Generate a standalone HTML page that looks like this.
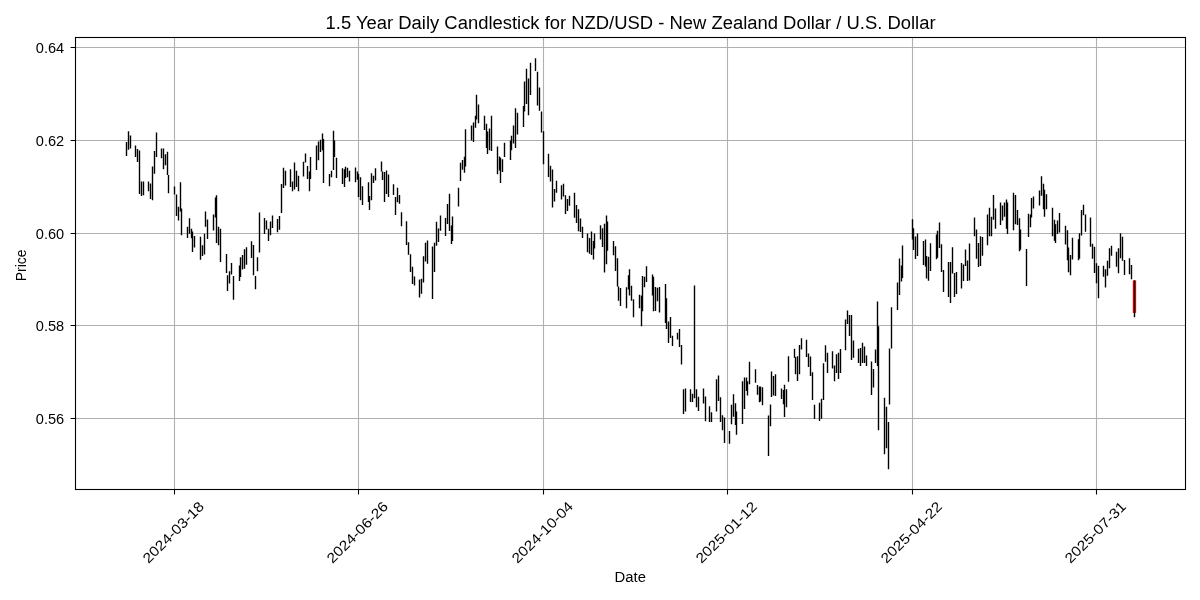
<!DOCTYPE html><html><head><meta charset="utf-8"><style>html,body{margin:0;padding:0;background:#fff;width:1200px;height:600px;overflow:hidden}svg{display:block}text{font-family:"Liberation Sans",sans-serif;fill:#000}</style></head><body><svg width="1200" height="600" viewBox="0 0 1200 600"><rect x="0" y="0" width="1200" height="600" fill="#fff"/><path d="M75.5 47.5H1185.5 M75.5 140.5H1185.5 M75.5 233.5H1185.5 M75.5 325.5H1185.5 M75.5 418.5H1185.5 M174.5 37.5V489.5 M358.5 37.5V489.5 M543.5 37.5V489.5 M727.5 37.5V489.5 M912.5 37.5V489.5 M1096.5 37.5V489.5" stroke="#b0b0b0" stroke-width="1.1" fill="none"/><rect x="1132.8" y="280.5" width="3.35" height="32.4" fill="#f00"/><path d="M126.5 141.9V155.9 M128.5 131.2V149.7 M130.5 135.4V148.4 M135.5 145.5V156.9 M137.5 149.0V162.0 M139.5 150.4V193.9 M141.5 181.6V195.9 M143.5 181.6V195.2 M148.5 181.6V191.3 M150.5 183.5V199.0 M152.5 166.6V200.2 M154.5 151.0V173.8 M156.5 132.5V156.9 M161.5 148.4V158.2 M163.5 148.4V169.2 M165.5 154.3V165.3 M167.5 151.7V175.0 M168.5 175.0V193.3 M174.5 186.4V194.6 M176.5 194.6V216.0 M178.5 206.8V220.6 M180.5 182.3V211.4 M181.5 208.4V235.2 M187.5 226.8V238.0 M189.5 218.3V233.7 M191.5 228.8V238.3 M192.5 231.4V252.1 M194.5 236.0V247.5 M200.5 236.7V259.8 M202.5 245.2V255.9 M204.5 233.7V254.4 M205.5 211.4V226.8 M207.5 219.6V239.0 M213.5 214.5V230.6 M215.5 197.6V217.6 M216.5 195.3V242.9 M218.5 226.8V245.2 M220.5 228.8V262.0 M226.5 254.1V272.9 M227.5 275.3V290.9 M229.5 271.2V283.5 M231.5 263.0V274.5 M233.5 276.1V299.8 M239.5 265.5V281.0 M240.5 257.3V277.0 M242.5 254.9V269.6 M244.5 249.2V268.8 M246.5 247.2V264.7 M251.5 241.3V258.1 M253.5 245.1V275.3 M255.5 276.1V289.2 M257.5 257.3V271.2 M259.5 212.4V252.4 M264.5 218.1V234.1 M266.5 220.5V229.5 M268.5 228.7V241.0 M270.5 221.4V235.3 M272.5 215.6V227.9 M277.5 219.0V232.2 M279.5 216.0V229.8 M281.5 183.9V212.9 M283.5 167.8V188.0 M285.5 170.8V185.5 M290.5 169.2V187.1 M292.5 181.4V191.2 M294.5 162.6V189.6 M296.5 170.8V187.1 M298.5 175.7V191.2 M303.5 161.8V176.5 M305.5 153.6V162.6 M307.5 165.9V179.0 M309.5 171.6V191.2 M310.5 156.9V179.0 M316.5 145.4V170.0 M318.5 141.4V160.2 M320.5 139.7V152.0 M322.5 133.5V150.3 M323.5 138.9V183.0 M329.5 174.1V186.3 M331.5 170.8V177.3 M333.5 130.7V170.0 M334.5 140.5V156.9 M336.5 157.7V178.1 M342.5 168.3V183.9 M344.5 169.2V187.1 M345.5 166.7V178.1 M347.5 167.8V177.3 M349.5 170.8V181.4 M355.5 167.5V182.2 M357.5 171.6V179.8 M358.5 174.1V197.0 M360.5 177.3V200.2 M362.5 186.3V205.1 M368.5 182.2V201.9 M369.5 196.1V210.0 M371.5 173.2V200.2 M373.5 175.7V183.1 M375.5 168.3V180.6 M381.5 161.5V171.5 M382.5 171.5V180.0 M384.5 172.0V202.0 M386.5 170.5V194.0 M388.5 174.5V197.0 M393.5 184.3V195.0 M395.5 197.0V215.0 M397.5 187.7V202.3 M399.5 195.0V203.7 M401.5 212.3V226.3 M406.5 221.3V245.0 M408.5 242.3V254.7 M410.5 254.3V271.9 M412.5 266.7V283.9 M414.5 276.4V285.4 M419.5 279.4V297.4 M421.5 278.7V293.7 M423.5 256.2V282.4 M425.5 242.7V261.4 M427.5 240.5V263.7 M432.5 246.5V298.9 M434.5 242.7V271.9 M436.5 221.7V245.7 M438.5 228.5V242.0 M440.5 215.4V230.7 M445.5 218.0V236.0 M447.5 204.0V224.0 M449.5 193.7V231.0 M451.5 225.5V244.0 M452.5 216.5V241.0 M458.5 187.7V206.4 M460.5 162.7V181.0 M462.5 160.0V169.7 M464.5 156.7V172.7 M465.5 129.2V166.6 M471.5 125.4V140.4 M473.5 122.5V141.9 M475.5 115.7V127.7 M476.5 94.7V119.5 M478.5 104.5V123.2 M484.5 115.7V129.9 M486.5 123.7V147.9 M487.5 131.4V153.9 M489.5 128.4V150.2 M491.5 115.7V150.9 M497.5 146.4V174.2 M499.5 156.6V170.4 M500.5 157.7V183.1 M502.5 159.2V171.9 M504.5 142.7V156.9 M510.5 140.4V160.0 M511.5 135.7V150.2 M513.5 125.5V143.4 M515.5 108.2V148.0 M517.5 112.7V134.5 M523.5 106.0V127.0 M524.5 81.5V111.4 M526.5 68.7V103.9 M528.5 78.5V115.2 M530.5 62.7V95.0 M535.5 58.2V71.0 M537.5 71.7V105.4 M539.5 87.5V110.7 M541.5 111.4V132.4 M543.5 131.2V164.2 M548.5 153.7V176.9 M550.5 165.7V181.4 M552.5 169.4V207.6 M554.5 188.9V201.6 M556.5 180.7V192.7 M561.5 185.2V199.4 M563.5 183.7V196.4 M565.5 195.2V214.0 M567.5 199.0V211.0 M569.5 195.7V205.7 M574.5 192.7V217.7 M576.5 205.0V223.0 M578.5 209.2V231.2 M580.5 218.4V231.9 M582.5 226.7V237.9 M587.5 233.4V252.2 M589.5 237.9V253.7 M591.5 231.6V255.1 M593.5 240.9V259.6 M594.5 233.4V248.4 M600.5 225.2V239.5 M602.5 228.2V247.0 M604.5 223.7V272.4 M606.5 215.5V264.2 M607.5 221.5V250.7 M613.5 241.0V255.2 M615.5 246.2V270.9 M617.5 258.2V286.6 M618.5 286.5V300.7 M620.5 288.0V306.0 M626.5 287.2V308.2 M628.5 275.2V289.5 M629.5 269.2V295.4 M631.5 285.7V300.7 M633.5 299.2V317.2 M639.5 294.7V308.2 M641.5 295.4V326.2 M642.5 276.0V311.2 M644.5 276.7V287.2 M646.5 266.2V282.0 M652.5 274.5V295.4 M653.5 276.7V311.2 M655.5 287.0V311.0 M657.5 287.7V301.2 M659.5 287.0V312.4 M665.5 284.0V322.9 M666.5 298.2V328.9 M668.5 321.4V343.1 M670.5 316.9V337.9 M672.5 335.7V346.1 M677.5 332.7V339.4 M679.5 328.9V346.9 M681.5 345.0V364.5 M683.5 389.2V413.9 M685.5 388.4V411.6 M690.5 389.2V401.9 M692.5 393.7V401.9 M694.5 285.4V398.2 M696.5 389.2V407.2 M698.5 396.7V410.9 M703.5 388.4V403.4 M705.5 396.5V421.2 M709.5 406.2V421.9 M711.5 412.2V421.9 M716.5 379.2V411.4 M718.5 375.5V401.0 M720.5 397.2V421.9 M722.5 415.2V430.2 M724.5 417.4V442.9 M729.5 430.9V443.7 M731.5 404.7V424.2 M733.5 394.2V416.7 M735.5 403.2V425.0 M736.5 411.4V434.7 M742.5 381.2V423.9 M744.5 377.5V408.9 M746.5 377.5V391.0 M747.5 381.2V395.4 M749.5 361.7V384.2 M755.5 369.2V382.7 M757.5 385.0V394.7 M759.5 386.5V402.2 M760.5 386.5V401.4 M762.5 387.2V405.2 M768.5 415.5V456.0 M770.5 404.4V426.2 M771.5 371.5V397.0 M773.5 376.0V395.4 M775.5 374.2V395.9 M781.5 388.4V398.9 M783.5 390.0V404.2 M784.5 384.7V416.9 M786.5 389.2V407.2 M788.5 356.2V381.7 M794.5 348.7V357.7 M795.5 357.0V374.2 M797.5 356.2V381.0 M799.5 345.0V374.2 M801.5 338.2V349.5 M806.5 339.7V357.0 M808.5 353.5V367.0 M810.5 356.5V376.0 M812.5 372.2V399.9 M814.5 404.7V419.0 M819.5 402.7V421.0 M821.5 398.7V418.7 M823.5 363.2V399.9 M825.5 345.2V361.7 M827.5 352.7V373.0 M832.5 351.2V368.4 M834.5 365.4V381.2 M836.5 354.2V373.0 M838.5 352.7V379.0 M840.5 349.0V373.0 M845.5 319.5V350.2 M847.5 310.5V324.0 M849.5 315.0V336.0 M851.5 315.0V360.0 M853.5 340.4V357.7 M858.5 348.7V362.9 M860.5 348.0V366.0 M862.5 342.7V362.9 M864.5 346.4V362.9 M866.5 355.4V366.0 M871.5 361.4V395.0 M873.5 368.9V387.5 M875.5 349.4V362.9 M877.5 301.5V366.0 M878.5 326.2V430.2 M884.5 397.7V454.2 M886.5 406.7V448.2 M888.5 422.0V469.2 M889.5 348.6V404.6 M891.5 307.3V348.6 M897.5 282.5V310.0 M899.5 258.5V295.0 M901.5 265.5V281.5 M902.5 245.5V278.0 M912.5 219.2V239.5 M913.5 228.2V250.0 M915.5 236.5V258.9 M917.5 233.5V255.9 M923.5 241.0V265.0 M925.5 239.5V266.4 M926.5 255.9V278.4 M928.5 256.7V280.7 M930.5 243.2V271.0 M936.5 234.5V259.2 M937.5 230.7V257.7 M939.5 222.5V248.0 M941.5 244.2V271.9 M943.5 270.0V292.0 M948.5 262.0V297.0 M950.5 262.0V303.0 M952.5 247.2V273.4 M954.5 273.0V297.0 M956.5 272.0V294.0 M961.5 262.9V288.4 M963.5 264.4V280.9 M965.5 249.4V265.9 M967.5 260.5V281.0 M969.5 243.5V280.5 M974.5 217.5V236.2 M976.5 229.4V258.7 M978.5 242.9V266.9 M980.5 236.2V266.1 M982.5 237.0V255.7 M987.5 214.5V245.2 M989.5 207.7V236.2 M991.5 216.7V236.2 M993.5 195.0V219.7 M995.5 208.5V228.7 M1000.5 202.5V224.9 M1002.5 205.5V220.4 M1004.5 202.5V216.7 M1006.5 199.5V228.7 M1007.5 202.5V233.9 M1013.5 192.7V230.2 M1015.5 195.0V224.2 M1017.5 210.0V224.9 M1019.5 218.2V251.2 M1020.5 229.4V249.7 M1026.5 249.0V286.0 M1028.5 213.7V236.9 M1030.5 214.5V227.2 M1031.5 198.0V217.5 M1033.5 196.5V208.5 M1039.5 190.5V205.4 M1041.5 176.2V195.7 M1043.5 183.7V209.2 M1044.5 189.7V216.7 M1046.5 194.2V209.2 M1052.5 207.7V236.2 M1054.5 219.7V240.7 M1055.5 224.2V242.9 M1057.5 220.4V233.9 M1059.5 212.9V232.4 M1065.5 225.7V244.4 M1067.5 230.2V260.2 M1068.5 247.4V272.2 M1070.5 255.0V275.2 M1072.5 237.7V259.4 M1078.5 239.2V260.2 M1079.5 233.2V258.7 M1081.5 210.0V235.4 M1083.5 204.7V215.2 M1085.5 214.5V231.7 M1090.5 217.5V246.7 M1092.5 243.7V258.7 M1094.5 246.7V272.9 M1096.5 263.3V283.3 M1098.5 265.8V298.3 M1103.5 265.8V276.7 M1105.5 269.2V287.5 M1107.5 260.8V275.8 M1109.5 248.3V268.3 M1111.5 245.8V255.8 M1116.5 251.7V266.7 M1118.5 248.3V273.3 M1120.5 233.3V258.3 M1122.5 236.7V260.8 M1124.5 260.0V275.0 M1129.5 258.3V274.2 M1131.5 265.0V279.2 M1134.5 280.3V317.3" stroke="#000" stroke-width="1.39" fill="none"/><rect x="75.5" y="37.5" width="1110" height="452" fill="none" stroke="#000" stroke-width="1.1"/><path d="M70.6 47.5H75.5 M70.6 140.5H75.5 M70.6 233.5H75.5 M70.6 325.5H75.5 M70.6 418.5H75.5 M174.5 489.5V494.4 M358.5 489.5V494.4 M543.5 489.5V494.4 M727.5 489.5V494.4 M912.5 489.5V494.4 M1096.5 489.5V494.4" stroke="#000" stroke-width="1.1" fill="none"/><g style="filter:grayscale(1)"><text x="64.2" y="52.6" font-size="14" text-anchor="end" textLength="28.4" lengthAdjust="spacingAndGlyphs">0.64</text><text x="64.2" y="145.6" font-size="14" text-anchor="end" textLength="28.4" lengthAdjust="spacingAndGlyphs">0.62</text><text x="64.2" y="238.6" font-size="14" text-anchor="end" textLength="28.4" lengthAdjust="spacingAndGlyphs">0.60</text><text x="64.2" y="330.6" font-size="14" text-anchor="end" textLength="28.4" lengthAdjust="spacingAndGlyphs">0.58</text><text x="64.2" y="423.6" font-size="14" text-anchor="end" textLength="28.4" lengthAdjust="spacingAndGlyphs">0.56</text><text x="0" y="5" font-size="14" text-anchor="middle" textLength="80" lengthAdjust="spacingAndGlyphs" transform="translate(173.2,532.2) rotate(-45)">2024-03-18</text><text x="0" y="5" font-size="14" text-anchor="middle" textLength="80" lengthAdjust="spacingAndGlyphs" transform="translate(357.2,532.2) rotate(-45)">2024-06-26</text><text x="0" y="5" font-size="14" text-anchor="middle" textLength="80" lengthAdjust="spacingAndGlyphs" transform="translate(542.2,532.2) rotate(-45)">2024-10-04</text><text x="0" y="5" font-size="14" text-anchor="middle" textLength="80" lengthAdjust="spacingAndGlyphs" transform="translate(726.2,532.2) rotate(-45)">2025-01-12</text><text x="0" y="5" font-size="14" text-anchor="middle" textLength="80" lengthAdjust="spacingAndGlyphs" transform="translate(911.2,532.2) rotate(-45)">2025-04-22</text><text x="0" y="5" font-size="14" text-anchor="middle" textLength="80" lengthAdjust="spacingAndGlyphs" transform="translate(1095.2,532.2) rotate(-45)">2025-07-31</text><text x="630.6" y="28.75" font-size="18" text-anchor="middle" textLength="610" lengthAdjust="spacingAndGlyphs">1.5 Year Daily Candlestick for NZD/USD - New Zealand Dollar / U.S. Dollar</text><text x="630.3" y="581.75" font-size="14" text-anchor="middle" textLength="31.4" lengthAdjust="spacingAndGlyphs">Date</text><text x="0" y="0" font-size="14" text-anchor="middle" textLength="31.6" lengthAdjust="spacingAndGlyphs" transform="translate(25.9,265.4) rotate(-90)">Price</text></g></svg></body></html>
